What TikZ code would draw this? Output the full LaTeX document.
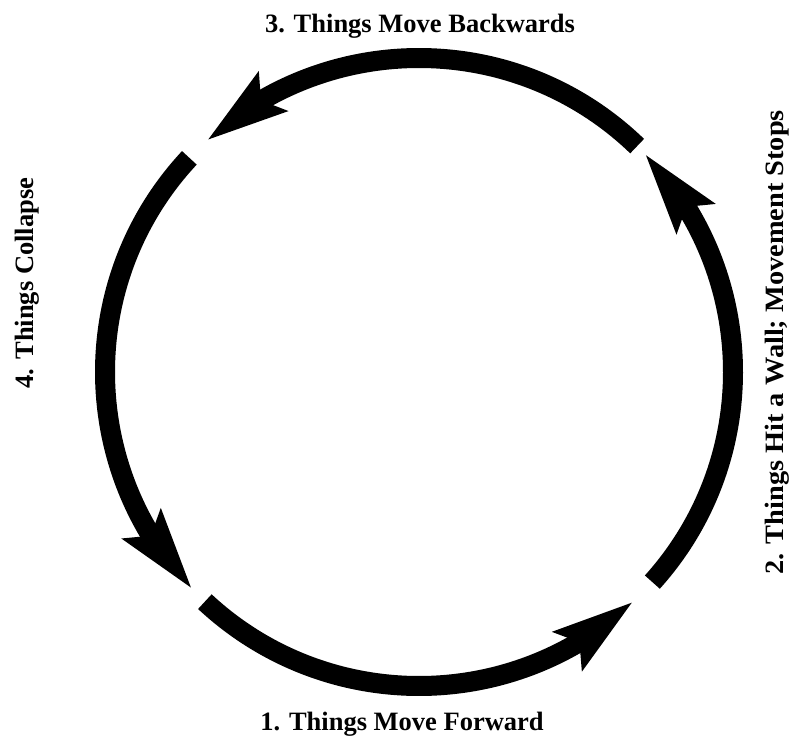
\documentclass[tikz,border=0pt]{standalone}
\usepackage{fontspec}
\setmainfont{Liberation Serif}
\usetikzlibrary{arrows.meta,bending}
\begin{document}
\begin{tikzpicture}[x=1pt,y=1pt,
  cyclearrow/.style={line width=20pt,-{Stealth[length=80pt,width=46pt,inset=13pt]}},
  lbl/.style={font=\fontsize{26.5}{30}\selectfont\bfseries,inner sep=0pt,anchor=base}]
\useasboundingbox (0,0) rectangle (792,742);
\coordinate (c) at (419,370);
\draw[cyclearrow] ([shift={(227:314pt)}]c) arc[start angle=227,end angle=313,radius=314pt];
\draw[cyclearrow] ([shift={(318:314pt)}]c) arc[start angle=318,end angle=404,radius=314pt];
\draw[cyclearrow] ([shift={(46:314pt)}]c) arc[start angle=46,end angle=132.5,radius=314pt];
\draw[cyclearrow] ([shift={(137:314pt)}]c) arc[start angle=137,end angle=223.7,radius=314pt];
\node[lbl] (l1) at (402,12) {1. Things Move Forward};
\node[lbl,rotate=90] (l2) at (783,399.5) {\scalebox{1.07}[1]{2. Things Hit a Wall; Movement Stops}};
\node[lbl] (l3) at (420,709) {3. Things Move Backwards};
\node[lbl,rotate=90] (l4) at (33,459) {4. Things Collapse};
\end{tikzpicture}
\end{document}
